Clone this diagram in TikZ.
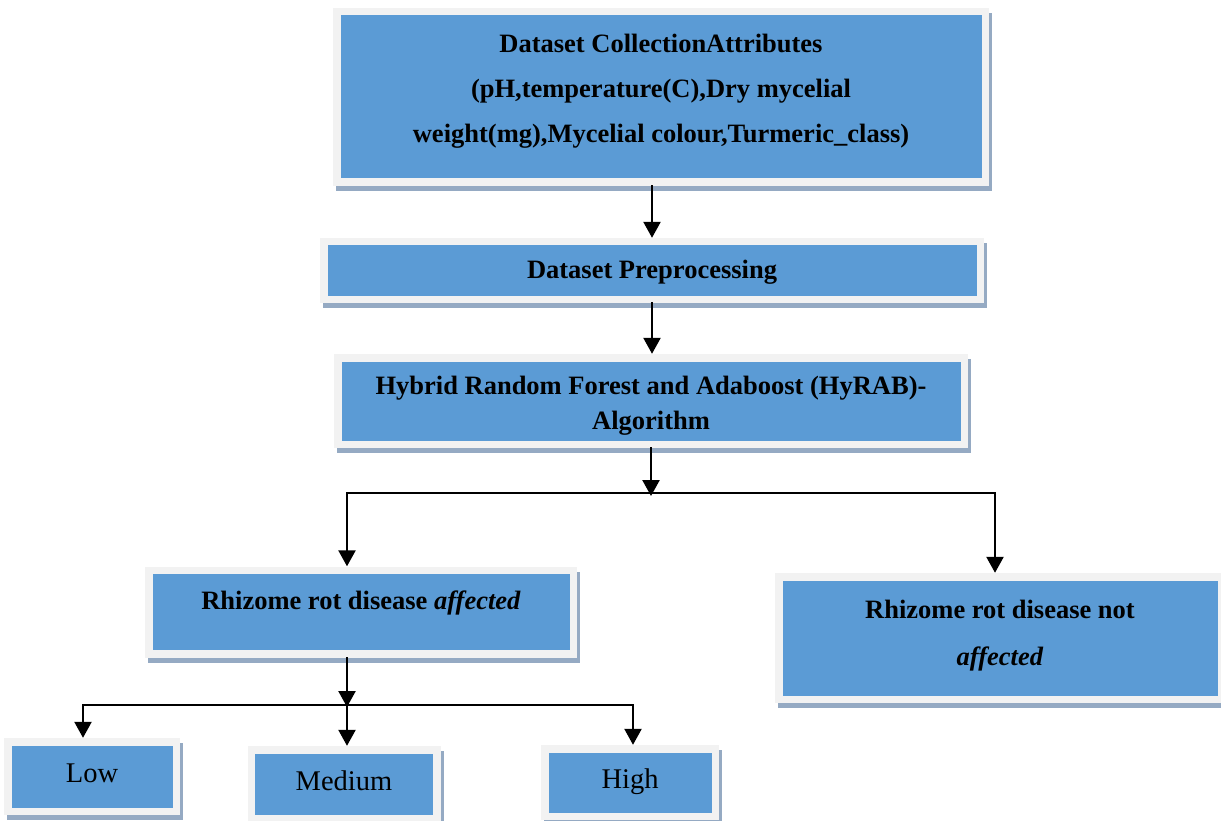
\documentclass[tikz,border=0pt]{standalone}
\usepackage{fontspec}
\setmainfont{Liberation Serif}
\usetikzlibrary{arrows.meta,shadows}
\definecolor{boxblue}{HTML}{5B9BD5}
\definecolor{boxgray}{HTML}{F2F2F2}
\definecolor{shadowc}{HTML}{95AAC3}

\begin{document}
\begin{tikzpicture}[x=1pt, y=1pt,
  blk/.style={fill=boxgray, inner sep=0pt, align=center, text height=18pt,
    drop shadow={shadow xshift=3pt, shadow yshift=-5pt, fill=shadowc, opacity=1},
    path picture={\fill[boxblue] ([shift={(7.5pt,-7.5pt)}]path picture bounding box.north west)
      rectangle ([shift={(-7.5pt,7.5pt)}]path picture bounding box.south east);}},
  bf/.style={font=\bfseries\fontsize{26.5}{#1}\selectfont},
  rg/.style={font=\fontsize{28.5}{34}\selectfont, text height=19pt},
  arr/.style={line width=2.4pt, line cap=rect, -{Triangle[length=16pt, width=17pt]}},
  ln/.style={line width=2.4pt, line cap=rect}]
\useasboundingbox (0,0) rectangle (1221,-821);

\node[blk, bf=45, minimum width=656pt, minimum height=178pt, text height=108pt, text depth=16pt] (coll) at (661,-97)
  {Dataset CollectionAttributes\\(pH,temperature(C),Dry mycelial\\weight(mg),Mycelial colour,Turmeric\_class)};
\node[blk, bf=30, minimum width=664pt, minimum height=65pt, text depth=1pt] (prep) at (652,-270.5)
  {Dataset Preprocessing};
\node[blk, bf=35, minimum width=634pt, minimum height=94pt, text height=56pt, text depth=0pt] (hyrab) at (651,-401)
  {Hybrid Random Forest and Adaboost (HyRAB)-\\Algorithm};
\node[blk, bf=30, minimum width=432pt, minimum height=91pt, text depth=24pt] (aff) at (361,-612)
  {Rhizome rot disease \textit{affected}};
\node[blk, bf=47, minimum width=450pt, minimum height=130pt, text height=65pt, text depth=11pt] (naff) at (1000,-638)
  {Rhizome rot disease not\\\textit{affected}};
\node[blk, rg, minimum width=176pt, minimum height=77pt, text depth=7pt] (low) at (92,-776.5) {Low};
\node[blk, rg, minimum width=193pt, minimum height=76pt, text depth=6pt] (med) at (344,-784) {Medium};
\node[blk, rg, minimum width=178pt, minimum height=75pt, text depth=7pt] (high) at (630,-782.5) {High};

\coordinate (jl) at (347,-493);
\coordinate (jr) at (995,-493);
\coordinate (kl) at (83,-705);
\coordinate (kr) at (633,-705);

\draw[arr] (prep.north |- coll.south) -- (prep.north);
\draw[arr] (prep.south) -- (prep.south |- hyrab.north);
\draw[arr] (hyrab.south) -- ([yshift=-3pt]hyrab.south |- jl);
\draw[arr] (jr) -- (jl) -- (jl |- aff.north);
\draw[arr] (jr) -- (jr |- naff.north);
\draw[arr] (jl |- aff.south) -- ([yshift=-2pt]jl |- kl);
\draw[arr] (kr) -- (kl) -- (kl |- low.north);
\draw[arr] (jl |- kl) -- (jl |- med.north);
\draw[arr] (kr) -- (kr |- high.north);
\end{tikzpicture}
\end{document}
